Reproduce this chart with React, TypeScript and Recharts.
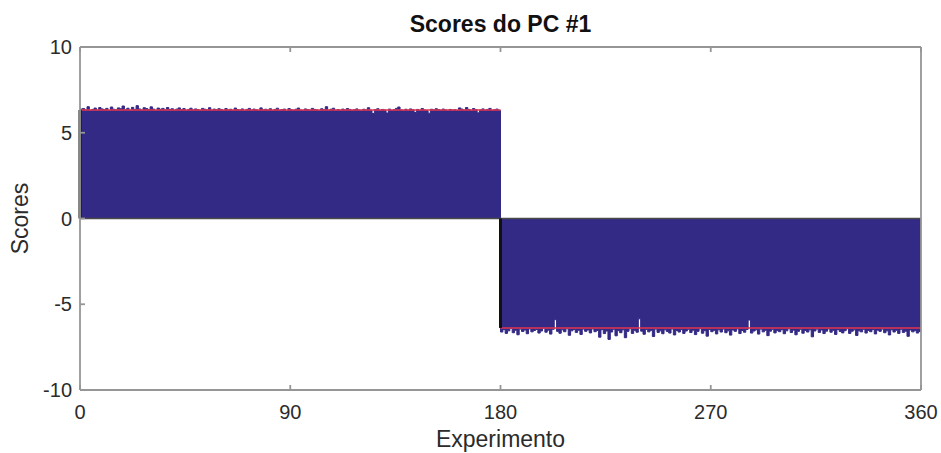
import React from "react";
import {
  ComposedChart,
  Area,
  XAxis,
  YAxis,
  ReferenceLine,
} from "recharts";

// PC #1 scores, experiments 1-180 (positive group)
const scoresA = [
  6.38, 6.41, 6.33, 6.52, 6.30, 6.36, 6.44, 6.31, 6.47, 6.39, 6.35, 6.42, 6.29, 6.50, 6.37, 6.33, 6.45, 6.40, 6.56, 6.34,
  6.43, 6.30, 6.48, 6.36, 6.58, 6.39, 6.32, 6.46, 6.41, 6.35, 6.51, 6.38, 6.29, 6.44, 6.37, 6.42, 6.33, 6.47, 6.36, 6.40,
  6.31, 6.38, 6.45, 6.34, 6.41, 6.29, 6.36, 6.43, 6.32, 6.39, 6.35, 6.30, 6.42, 6.37, 6.33, 6.46, 6.31, 6.38, 6.34, 6.40,
  6.36, 6.29, 6.41, 6.33, 6.37, 6.30, 6.44, 6.35, 6.32, 6.39, 6.28, 6.36, 6.42, 6.31, 6.38, 6.34, 6.30, 6.45, 6.33, 6.37,
  6.32, 6.40, 6.29, 6.36, 6.43, 6.31, 6.35, 6.38, 6.27, 6.41, 6.34, 6.30, 6.37, 6.44, 6.32, 6.29, 6.39, 6.35, 6.31, 6.42,
  6.36, 6.33, 6.28, 6.40, 6.34, 6.52, 6.31, 6.37, 6.43, 6.30, 6.35, 6.29, 6.38, 6.33, 6.41, 6.36, 6.30, 6.34, 6.39, 6.32,
  6.28, 6.37, 6.33, 6.46, 6.31, 6.12, 6.35, 6.40, 6.29, 6.36, 6.32, 6.15, 6.38, 6.30, 6.34, 6.42, 6.50, 6.33, 6.28, 6.37,
  6.31, 6.39, 6.34, 6.18, 6.36, 6.30, 6.41, 6.33, 6.29, 6.14, 6.37, 6.32, 6.40, 6.35, 6.30, 6.38, 6.33, 6.28, 6.36, 6.31,
  6.34, 6.29, 6.45, 6.38, 6.32, 6.47, 6.36, 6.30, 6.41, 6.35, 6.16, 6.33, 6.39, 6.31, 6.36, 6.42, 6.29, 6.34, 6.38, 6.30,
];

// experiments 181-360 (negative group)
const scoresB = [
  -6.62, -6.48, -6.70, -6.55, -6.41, -6.66, -6.52, -6.78, -6.45, -6.59, -6.50, -6.72, -6.44, -6.61, -6.53, -6.47, -6.68, -6.56, -6.40, -6.63,
  -6.51, -6.74, -6.46, -5.90, -6.58, -6.69, -6.49, -6.60, -6.43, -6.81, -6.55, -6.47, -6.64, -6.52, -6.76, -6.45, -6.58, -6.50, -6.67, -6.44,
  -6.60, -6.53, -6.92, -6.48, -6.71, -6.56, -7.05, -6.62, -6.46, -6.84, -6.54, -6.66, -6.49, -6.95, -6.58, -6.43, -6.70, -6.52, -6.63, -5.85,
  -6.57, -6.75, -6.47, -6.61, -6.52, -6.88, -6.45, -6.64, -6.55, -6.72, -6.49, -6.59, -6.68, -6.44, -6.79, -6.53, -6.62, -6.48, -6.70, -6.56,
  -6.46, -6.65, -6.51, -6.77, -6.58, -6.43, -6.69, -6.54, -6.86, -6.47, -6.60, -6.52, -6.73, -6.49, -6.62, -6.45, -6.66, -6.55, -6.80, -6.50,
  -6.58, -6.44, -6.71, -6.53, -6.63, -6.47, -5.92, -6.68, -6.56, -6.49, -6.74, -6.45, -6.61, -6.52, -6.83, -6.57, -6.46, -6.67, -6.54, -6.60,
  -6.48, -6.72, -6.55, -6.43, -6.65, -6.51, -6.78, -6.58, -6.46, -6.69, -6.53, -6.62, -6.49, -6.90, -6.56, -6.45, -6.64, -6.50, -6.71, -6.57,
  -6.44, -6.63, -6.52, -6.76, -6.48, -6.59, -6.67, -6.54, -6.43, -6.70, -6.57, -6.49, -6.82, -6.55, -6.61, -6.46, -6.68, -6.53, -6.60, -6.47,
  -6.73, -6.51, -6.58, -6.45, -6.66, -6.55, -6.79, -6.49, -6.62, -6.52, -6.70, -6.46, -6.64, -6.57, -6.87, -6.50, -6.61, -6.54, -6.68, -6.59,
];

const meanA = 6.33;
const meanB = -6.38;
const groupSplit = 180;
const xMax = 360;

const xTicks = [0, 90, 180, 270, 360];
const yTicks = [-10, -5, 0, 5, 10];

const allScores = scoresA.concat(scoresB);
// step data: each experiment spans [i, i+1), last value repeated at the end
const chartData = allScores
  .map((score, i) => ({ exp: i, score }))
  .concat([{ exp: xMax, score: allScores[allScores.length - 1] }]);

const FONT = '"Liberation Sans", Arial, Helvetica, sans-serif';
const AXIS_GREY = "#969696";
const TEXT_GREY = "#2b2b2b";
const BAR_BLUE = "#332a85";

const tickStyle = { fill: TEXT_GREY, fontSize: 20, fontFamily: FONT };
const noLabel = () => "";

export default function App() {
  return (
    <div
      style={{
        position: "absolute",
        left: 0,
        top: 0,
        width: 941,
        height: 453,
        background: "#fff",
      }}
    >
      <div
        style={{
          position: "absolute",
          left: 80,
          top: 13,
          width: 841,
          textAlign: "center",
          fontFamily: FONT,
          fontSize: 23,
          lineHeight: "23px",
          fontWeight: "bold",
          color: "#111",
        }}
      >
        Scores do PC #1
      </div>
      <ComposedChart
        width={941}
        height={453}
        data={chartData}
        margin={{ top: 46, right: 19, bottom: 0, left: 0 }}
      >
        <XAxis
          xAxisId="bottom"
          type="number"
          dataKey="exp"
          domain={[0, xMax]}
          ticks={xTicks}
          allowDataOverflow
          height={63}
          stroke={AXIS_GREY}
          strokeWidth={1.8}
          tickSize={-5}
          tickMargin={20}
          tick={tickStyle}
          label={{
            content: (props: any) => {
              const vb = props.viewBox || { x: 80, width: 841 };
              return (
                <text
                  x={vb.x + vb.width / 2}
                  y={447}
                  textAnchor="middle"
                  fill={TEXT_GREY}
                  fontSize={23}
                  fontFamily={FONT}
                >
                  Experimento
                </text>
              );
            },
          }}
        />
        <XAxis
          xAxisId="top"
          orientation="top"
          type="number"
          dataKey="exp"
          domain={[0, xMax]}
          ticks={xTicks}
          height={1}
          stroke={AXIS_GREY}
          strokeWidth={1.8}
          tickSize={-5}
          tickFormatter={noLabel}
        />
        <YAxis
          yAxisId="left"
          type="number"
          domain={[-10, 10]}
          ticks={yTicks}
          width={80}
          stroke={AXIS_GREY}
          strokeWidth={1.8}
          tickSize={-5}
          tickMargin={13}
          tick={tickStyle}
          label={{
            content: (props: any) => {
              const vb = props.viewBox || { y: 47, height: 343 };
              const cy = vb.y + vb.height / 2;
              return (
                <text
                  x={28}
                  y={cy}
                  transform={`rotate(-90, 28, ${cy})`}
                  textAnchor="middle"
                  fill={TEXT_GREY}
                  fontSize={23}
                  fontFamily={FONT}
                >
                  Scores
                </text>
              );
            },
          }}
        />
        <YAxis
          yAxisId="right"
          orientation="right"
          type="number"
          domain={[-10, 10]}
          ticks={yTicks}
          width={1}
          stroke={AXIS_GREY}
          strokeWidth={1.8}
          tickSize={-5}
          tickFormatter={noLabel}
        />
        <Area
          xAxisId="bottom"
          yAxisId="left"
          type="stepAfter"
          dataKey="score"
          baseValue={0}
          fill={BAR_BLUE}
          fillOpacity={1}
          stroke={BAR_BLUE}
          strokeWidth={1}
          dot={false}
          activeDot={false}
          isAnimationActive={false}
        />
        <ReferenceLine
          xAxisId="bottom"
          yAxisId="left"
          y={0}
          stroke="#4a4a4a"
          strokeWidth={1.5}
        />
        <ReferenceLine
          xAxisId="bottom"
          yAxisId="left"
          segment={[
            { x: 0, y: meanA },
            { x: groupSplit, y: meanA },
          ]}
          stroke="#e3344e"
          strokeWidth={1.5}
        />
        <ReferenceLine
          xAxisId="bottom"
          yAxisId="left"
          segment={[
            { x: groupSplit, y: meanB },
            { x: xMax, y: meanB },
          ]}
          stroke="#e3344e"
          strokeWidth={1.5}
        />
        <ReferenceLine
          xAxisId="bottom"
          yAxisId="left"
          segment={[
            { x: 0, y: 0 },
            { x: 0, y: meanA },
          ]}
          stroke="#111"
          strokeWidth={3}
        />
        <ReferenceLine
          xAxisId="bottom"
          yAxisId="left"
          segment={[
            { x: groupSplit, y: 0 },
            { x: groupSplit, y: meanB },
          ]}
          stroke="#111"
          strokeWidth={3}
        />
      </ComposedChart>
    </div>
  );
}
